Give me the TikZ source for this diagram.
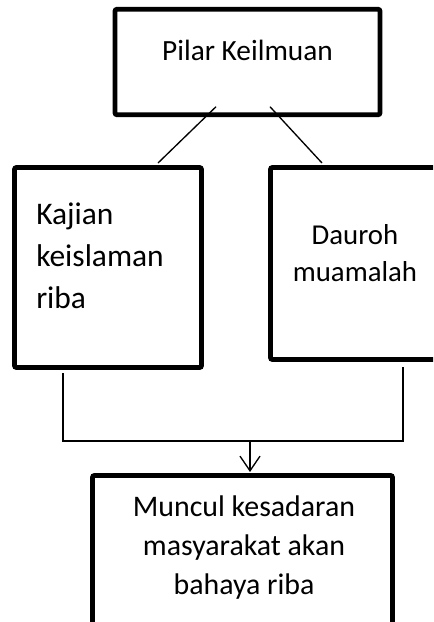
\documentclass[tikz,border=0pt]{standalone}
\usepackage{fontspec}
\setmainfont{Carlito}
\usepackage{tikz}
\usetikzlibrary{arrows.meta}

\begin{document}
\begin{tikzpicture}[
        x=0.75pt, y=-0.75pt,
        kotak/.style={draw, line width=3.6pt, rounded corners=1.5pt, outer sep=0pt, inner sep=0pt},
        teks/.style={inner sep=0pt, font=\fontsize{22}{29}\selectfont},
        garis/.style={line width=1pt}
    ]
        \useasboundingbox (0,0) rectangle (433,622);
        \clip (0,0) rectangle (433,622);

        \node[kotak, minimum width=198.75pt, minimum height=79.1pt] (pilar) at (247.5,62) {};
        \node[kotak, minimum width=140.25pt, minimum height=150pt] (kajian) at (108,267.5) {};
        \node[kotak, minimum width=127.9pt, minimum height=144pt] (dauroh) at (355.75,263.5) {};
        \node[kotak, minimum width=225pt, minimum height=123.4pt] (muncul) at (242.5,557.75) {};

        \node[teks, anchor=north] (pilarTeks) at (247.5,40) {Pilar Keilmuan};
        \node[teks, anchor=north west, align=left, font=\fontsize{23.6}{31.5}\selectfont]
            (kajianTeks) at (36,203) {Kajian\\keislaman\\riba};
        \node[teks, anchor=north, align=center, font=\fontsize{21.6}{27.75}\selectfont]
            (daurohTeks) at (355,224) {Dauroh\\muamalah};
        \node[teks, anchor=north, align=center, font=\fontsize{22.4}{29.25}\selectfont]
            (munculTeks) at (244,495) {Muncul kesadaran\\masyarakat akan\\bahaya riba};

        \coordinate (sudutKiri) at (63,441);
        \coordinate (sudutKanan) at (403,441);
        \coordinate (tengah) at (250,441);

        \draw[garis] ([shift={(-31.5,-8)}]pilar.south) -- ([shift={(50,-4.5)}]kajian.north);
        \draw[garis] ([shift={(22.5,-8)}]pilar.south) -- ([shift={(-33.75,-4.5)}]dauroh.north);
        \draw[garis] ([shift={(-45,5.5)}]kajian.south) -- (sudutKiri) -- (sudutKanan)
            -- ([shift={(47.25,7.5)}]dauroh.south);
        \draw[garis, -{Straight Barb[length=11pt, width=15pt]}] (tengah) -- ([shift={(7.5,-3.5)}]muncul.north);
    \end{tikzpicture}
\end{document}
